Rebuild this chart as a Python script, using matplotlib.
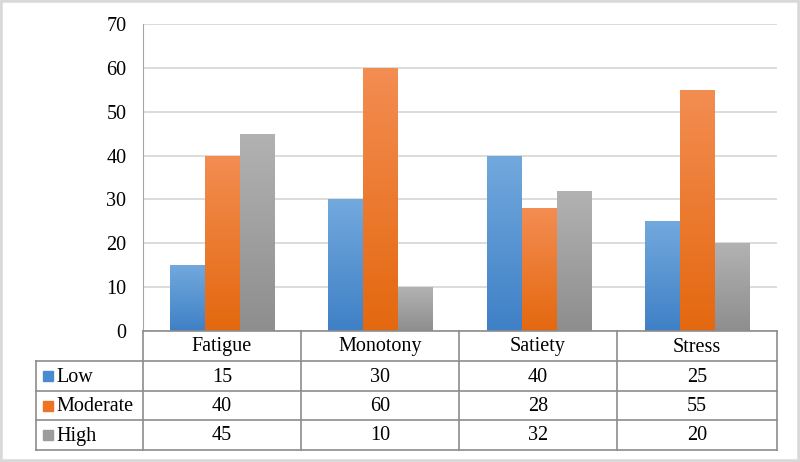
import numpy as np
import matplotlib
matplotlib.use("Agg")
import matplotlib.pyplot as plt
from matplotlib.patches import Rectangle
from matplotlib.lines import Line2D

categories = ['Fatigue', 'Monotony', 'Satiety', 'Stress']
series = ['Low', 'Moderate', 'High']
low = [15, 30, 40, 25]
moderate = [40, 60, 28, 55]
high = [45, 10, 32, 20]
values = [low, moderate, high]

# top / bottom colours for the gradient fill
top_cols = ['#72a9dd', '#f38d52', '#b2b2b2']
bot_cols = ['#3f80c6', '#e4680f', '#8e8e8e']
key_cols = ['#4a8ad0', '#ec7424', '#9c9c9c']

plt.rcParams['font.family'] = 'serif'
plt.rcParams['font.serif'] = ['Liberation Serif', 'TeX Gyre Termes', 'DejaVu Serif']
FS = 14.5
W, H = 800, 462
fig = plt.figure(figsize=(8, 4.62), dpi=100)

def fx(px):
    return px / W

def fy(py):
    return 1 - py / H

x_left, x_right = 143, 777
y_top, y_zero = 24, 331
ax = fig.add_axes([fx(x_left), fy(y_zero), fx(x_right - x_left), (y_zero - y_top) / H])
ax.set_yticks(np.arange(0, 71, 10))
ax.yaxis.grid(True, color='#d9d9d9', linewidth=1.3)
ax.set_axisbelow(True)
for s in ['top', 'right', 'bottom']:
    ax.spines[s].set_visible(False)
ax.spines['left'].set_color('#a6a6a6')
ax.tick_params(axis='y', length=0, pad=12, labelsize=FS)
ax.tick_params(axis='x', length=0, labelbottom=False)

bw = 0.22
x = np.arange(len(categories))
for i, vals in enumerate(values):
    bars = ax.bar(x + (i - 1) * bw, vals, bw, color='none', zorder=2)
    cmap = matplotlib.colors.LinearSegmentedColormap.from_list('g', [bot_cols[i], top_cols[i]])
    for b in bars:
        x0, y0 = b.get_x(), b.get_y()
        grad = np.linspace(0, 1, 100).reshape(-1, 1)
        im = ax.imshow(grad, cmap=cmap, origin='lower', aspect='auto',
                       extent=[x0, x0 + b.get_width(), y0, y0 + b.get_height()], zorder=2)
        im.set_clip_path(b)
ax.set_xlim(-0.5, len(categories) - 0.5)
ax.set_ylim(0, 70)

# data table below the plot
lc = '#8c8c8c'
col_x = [36, 143, 301, 459, 617, 777]
row_y = [331, 361, 391, 420, 450]
lines = []
lines.append(([col_x[1], col_x[-1]], [row_y[0], row_y[0]]))
for yy in row_y[1:]:
    lines.append(([col_x[0], col_x[-1]], [yy, yy]))
lines.append(([col_x[0], col_x[0]], [row_y[1], row_y[-1]]))
lines.append(([col_x[1], col_x[1]], [row_y[0], row_y[-1]]))
for xx in col_x[2:]:
    lines.append(([xx, xx], [row_y[0], row_y[-1]]))
for xs, ys in lines:
    fig.add_artist(Line2D([fx(v) for v in xs], [fy(v) for v in ys], color=lc, linewidth=1.2))

for j, cat in enumerate(categories):
    cx = (col_x[j + 1] + col_x[j + 2]) / 2
    fig.text(fx(cx), fy((row_y[0] + row_y[1]) / 2 + 1), cat, ha='center', va='center', fontsize=FS)
    for i in range(len(series)):
        fig.text(fx(cx), fy((row_y[i + 1] + row_y[i + 2]) / 2 + 1), str(values[i][j]),
                 ha='center', va='center', fontsize=FS)

for i, name in enumerate(series):
    cy = (row_y[i + 1] + row_y[i + 2]) / 2
    fig.add_artist(Rectangle((fx(43), fy(cy + 5)), fx(10), 10 / H, color=key_cols[i]))
    fig.text(fx(56), fy(cy + 1), name, ha='left', va='center', fontsize=FS)

# light outer frame
fig.add_artist(Rectangle((0, 0), 1, 1, fill=False, edgecolor='#d9d9d9', linewidth=4))

fig.savefig('out.png', dpi=100)
